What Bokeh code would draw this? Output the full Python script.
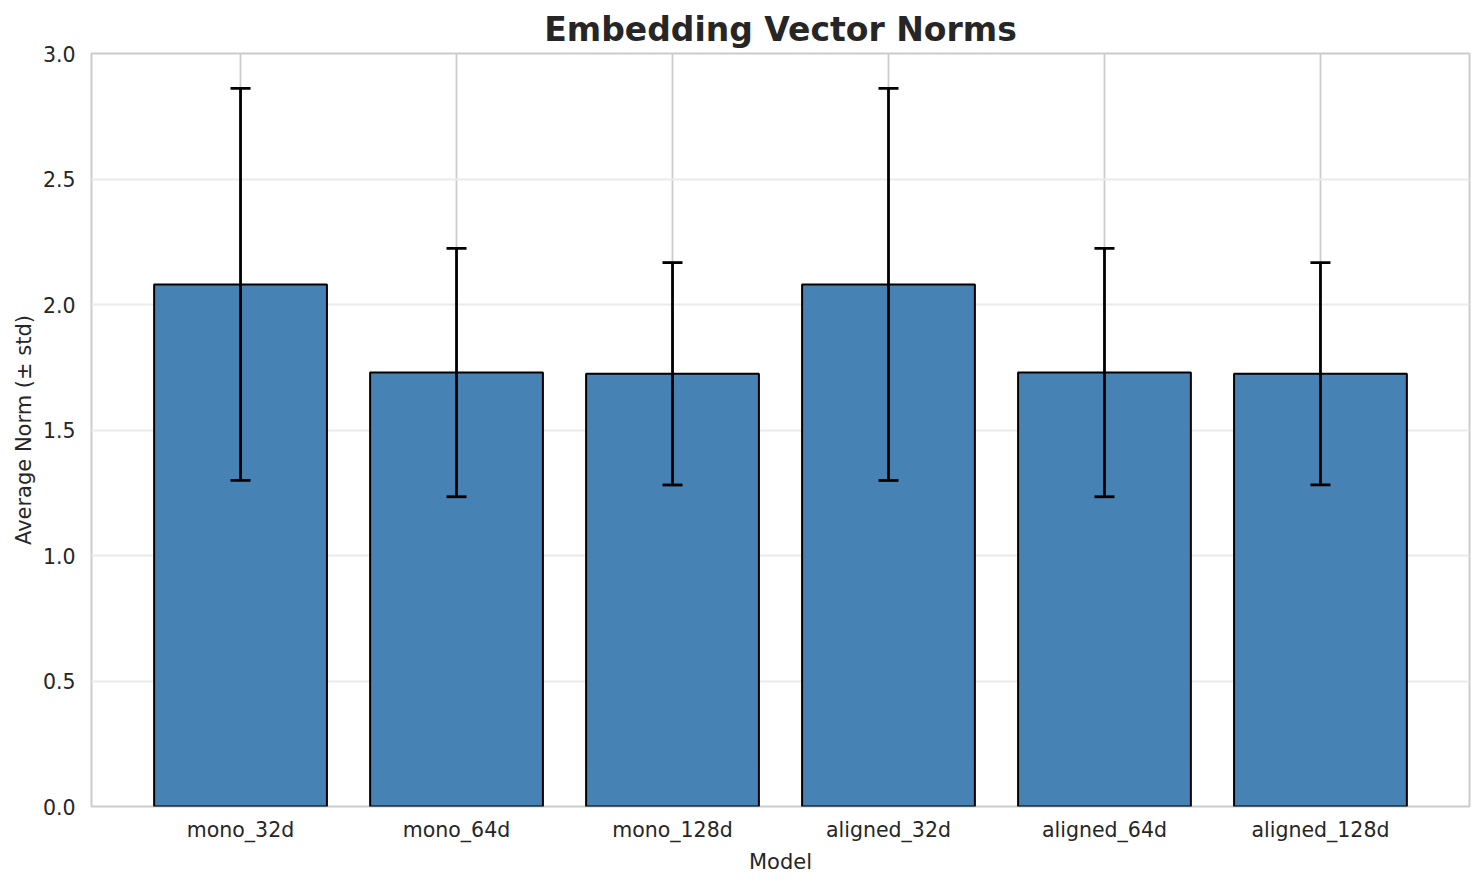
from bokeh.plotting import figure
from bokeh.models import ColumnDataSource, Whisker, TeeHead, Range1d, FixedTicker, NumeralTickFormatter
from bokeh.embed import file_html
from bokeh.resources import INLINE

models = ["mono_32d", "mono_64d", "mono_128d", "aligned_32d", "aligned_64d", "aligned_128d"]
mean_norm = [2.080, 1.729, 1.724, 2.080, 1.729, 1.724]
std_norm = [0.781, 0.495, 0.443, 0.781, 0.495, 0.443]
y_ticks = [0.0, 0.5, 1.0, 1.5, 2.0, 2.5, 3.0]

xs = list(range(len(models)))
src = ColumnDataSource(dict(
    x=xs,
    top=mean_norm,
    upper=[m + s for m, s in zip(mean_norm, std_norm)],
    lower=[m - s for m, s in zip(mean_norm, std_norm)],
))

TEXT = "#262626"
FONT = "DejaVu Sans"

p = figure(width=1476, height=877, output_backend="svg", toolbar_location=None,
           x_range=Range1d(-0.69, len(models) - 1 + 0.69), y_range=Range1d(0, 3.0),
           min_border_left=91, min_border_right=7, min_border_top=53, min_border_bottom=71,
           title="Embedding Vector Norms")

p.title.text_font = FONT
p.title.text_font_size = "33px"
p.title.text_font_style = "bold"
p.title.text_color = TEXT
p.title.align = "center"
p.title.offset = 0
p.title.standoff = 10

p.vbar(x="x", top="top", width=0.8, bottom=0, source=src,
       fill_color="#4682B4", line_color="black", line_width=2)

w = Whisker(source=src, base="x", upper="upper", lower="lower",
            line_color="black", line_width=2.8, level="overlay",
            upper_head=TeeHead(size=20, line_color="black", line_width=2.8),
            lower_head=TeeHead(size=20, line_color="black", line_width=2.8))
p.add_layout(w)

p.xaxis.ticker = FixedTicker(ticks=xs)
p.xaxis.major_label_overrides = {i: m for i, m in zip(xs, models)}
p.yaxis.ticker = FixedTicker(ticks=y_ticks)
p.yaxis.formatter = NumeralTickFormatter(format="0.0")

for ax in (p.xaxis[0], p.yaxis[0]):
    ax.axis_line_color = None
    ax.major_tick_line_color = None
    ax.minor_tick_line_color = None
    ax.major_label_text_font = FONT
    ax.major_label_text_font_size = "20.5px"
    ax.major_label_text_color = TEXT
    ax.axis_label_text_font = FONT
    ax.axis_label_text_font_size = "21px"
    ax.axis_label_text_font_style = "normal"
    ax.axis_label_text_color = TEXT

p.xaxis.axis_label = "Model"
p.yaxis.axis_label = "Average Norm (± std)"
p.xaxis.major_label_standoff = 5
p.yaxis.major_label_standoff = 10
p.xaxis.axis_label_standoff = 5
p.yaxis.axis_label_standoff = 4

p.xgrid.ticker = FixedTicker(ticks=xs)
p.xgrid.grid_line_color = "#cccccc"
p.xgrid.grid_line_width = 1.8
p.ygrid.ticker = FixedTicker(ticks=y_ticks)
p.ygrid.grid_line_color = "#ebebeb"
p.ygrid.grid_line_width = 1.8

p.outline_line_color = "#cccccc"
p.outline_line_width = 2
p.background_fill_color = "white"
p.border_fill_color = "white"

open("out.html", "w").write(file_html(p, INLINE))
